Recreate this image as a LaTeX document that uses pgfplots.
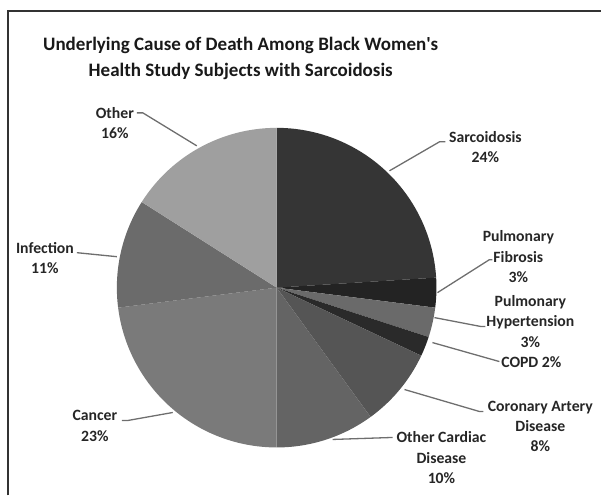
\documentclass[border=0pt]{standalone}
\usepackage{pgfplots}
\usepackage{pgfplotstable}
\pgfplotsset{compat=1.18}
\usepackage{fontspec}
\setmainfont{Carlito}
\definecolor{cSarc}{HTML}{353535}
\definecolor{cFib}{HTML}{232323}
\definecolor{cHyp}{HTML}{6A6A6A}
\definecolor{cCOPD}{HTML}{2A2A2A}
\definecolor{cCAD}{HTML}{555555}
\definecolor{cOC}{HTML}{646464}
\definecolor{cCan}{HTML}{7A7A7A}
\definecolor{cInf}{HTML}{6B6B6B}
\definecolor{cOth}{HTML}{9F9F9F}
\definecolor{leader}{HTML}{6E6E6E}
\pgfplotstableread[col sep=comma]{
label,value,shade
Sarcoidosis,24,cSarc
Pulmonary Fibrosis,3,cFib
Pulmonary Hypertension,3,cHyp
COPD,2,cCOPD
Coronary Artery Disease,8,cCAD
Other Cardiac Disease,10,cOC
Cancer,23,cCan
Infection,11,cInf
Other,16,cOth
}\piedata
\begin{document}
\begin{tikzpicture}
\begin{axis}[x=1bp,y=1bp,xmin=0,xmax=602,ymin=0,ymax=496,
  enlargelimits=false,hide axis,clip=false,anchor=origin,at={(0,0)}]
\xdef\cum{90}
\pgfplotsforeachungrouped \i in {0,...,8}{%
  \pgfplotstablegetelem{\i}{value}\of\piedata \let\v\pgfplotsretval
  \pgfplotstablegetelem{\i}{shade}\of\piedata \let\c\pgfplotsretval
  \pgfmathsetmacro\e{\cum-3.6*\v}%
  \edef\temp{\noexpand\addplot[fill=\c,draw=none,domain=\e:\cum,samples=90]
    ({277+160*cos(x)},{208+160*sin(x)}) -- (axis cs:277,208) -- cycle;}%
  \temp
  \xdef\cum{\e}%
}
% frame
\draw[line width=1.5bp,color=black!80] (axis cs:8,0) -- (axis cs:8,485) -- (axis cs:602,485);
% title
\node[font=\fontsize{19.1}{27}\selectfont\bfseries,align=center,text=black!90]
  at (axis cs:241,437.5) {Underlying Cause of Death Among Black Women\textquotesingle s\\Health Study Subjects with Sarcoidosis};
% leader lines
\begin{scope}[line width=1.3bp,color=leader]
\draw (axis cs:390,325) -- (axis cs:440,354) -- (axis cs:446,354);
\draw (axis cs:438,203) -- (axis cs:490,236) -- (axis cs:493,236);
\draw (axis cs:435,178) -- (axis cs:482,169) -- (axis cs:486,169);
\draw (axis cs:433,153) -- (axis cs:500,134);
\draw (axis cs:405,106) -- (axis cs:480,84) -- (axis cs:484,84);
\draw (axis cs:333,56) -- (axis cs:393,58);
\draw (axis cs:173,83) -- (axis cs:128,75) -- (axis cs:122,75);
\draw (axis cs:117,239) -- (axis cs:77,243);
\draw (axis cs:197,350) -- (axis cs:143,383) -- (axis cs:137,383);
\end{scope}
% labels
\begin{scope}[every node/.style={font=\fontsize{15.8}{20.5}\selectfont\bfseries,align=center,text=black!85}]
\node at (axis cs:486,348.5) {Sarcoidosis\\24\%};
\node at (axis cs:519,239) {Pulmonary\\Fibrosis\\3\%};
\node at (axis cs:531,174.3) {Pulmonary\\Hypertension\\3\%};
\node at (axis cs:532,133) {COPD 2\%};
\node at (axis cs:541,69) {Coronary Artery\\Disease\\8\%};
\node at (axis cs:442,37.7) {Other Cardiac\\Disease\\10\%};
\node at (axis cs:95,69.5) {Cancer\\23\%};
\node at (axis cs:45,237.5) {Infection\\11\%};
\node at (axis cs:115,373) {Other\\16\%};
\end{scope}
\end{axis}
\path[use as bounding box] (0,0) rectangle (602bp,496bp);
\end{tikzpicture}
\end{document}
